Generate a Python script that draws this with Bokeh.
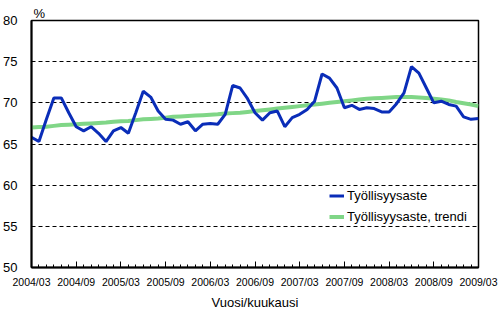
from bokeh.plotting import figure
from bokeh.models import FixedTicker, Range1d, Legend, LegendItem
from bokeh.embed import file_html
from bokeh.resources import INLINE

tick_labels = ["2004/03", "2004/09", "2005/03", "2005/09", "2006/03", "2006/09",
               "2007/03", "2007/09", "2008/03", "2008/09", "2009/03"]

months = list(range(61))

employment = [65.8, 65.3, 68.0, 70.6, 70.6, 68.8, 67.1, 66.6, 67.1, 66.3,
              65.3, 66.6, 67.0, 66.3, 68.8, 71.4, 70.7, 69.0, 68.0, 67.9,
              67.4, 67.7, 66.6, 67.4, 67.5, 67.4, 68.6, 72.1, 71.8, 70.5,
              68.8, 67.9, 68.8, 69.0, 67.1, 68.2, 68.6, 69.2, 70.2, 73.5,
              73.0, 71.8, 69.4, 69.7, 69.2, 69.4, 69.3, 68.9, 68.9, 69.9,
              71.2, 74.4, 73.6, 71.8, 70.0, 70.2, 69.8, 69.6, 68.3, 68.0,
              68.1]

trend = [67.0, 67.05, 67.1, 67.2, 67.3, 67.35, 67.4, 67.45, 67.5, 67.55,
         67.6, 67.7, 67.75, 67.8, 67.9, 68.0, 68.05, 68.1, 68.2, 68.3,
         68.35, 68.4, 68.45, 68.5, 68.55, 68.6, 68.7, 68.75, 68.8, 68.9,
         69.0, 69.1, 69.2, 69.3, 69.4, 69.5, 69.6, 69.7, 69.8, 69.9,
         70.0, 70.1, 70.2, 70.3, 70.4, 70.5, 70.55, 70.6, 70.65, 70.7,
         70.7, 70.7, 70.65, 70.6, 70.5, 70.4, 70.3, 70.1, 69.95, 69.8,
         69.6]

FONT = "Liberation Sans"

p = figure(width=498, height=312, output_backend="svg", toolbar_location=None,
           x_range=Range1d(0, 60), y_range=Range1d(50, 80),
           min_border_left=25, min_border_right=20, min_border_top=20,
           min_border_bottom=43)

p.outline_line_color = "black"
p.outline_line_width = 1.5
p.background_fill_color = "white"
p.border_fill_color = "white"

# "%" unit label above the y axis
p.title.text = "%"
p.title.align = "left"
p.title.offset = 2
p.title.standoff = 0
p.title.text_font = FONT
p.title.text_font_size = "13px"
p.title.text_line_height = 1.0
p.title.text_font_style = "normal"
p.title.text_color = "black"

# grid
p.xgrid.grid_line_color = None
p.ygrid.grid_line_color = "black"
p.ygrid.grid_line_dash = "4 3"
p.ygrid.grid_line_width = 1
p.ygrid.ticker = FixedTicker(ticks=[55, 60, 65, 70, 75])

# y axis
p.yaxis.ticker = FixedTicker(ticks=[50, 55, 60, 65, 70, 75, 80])
p.yaxis.major_tick_line_color = None
p.yaxis.minor_tick_line_color = None
p.yaxis.axis_line_width = 2
p.yaxis.axis_line_color = "black"
p.yaxis.major_label_text_font = FONT
p.yaxis.major_label_text_font_size = "13px"
p.yaxis.major_label_text_color = "black"
p.yaxis.major_label_standoff = 8

# x axis
p.xaxis.ticker = FixedTicker(ticks=list(range(0, 61, 6)), minor_ticks=list(range(61)))
p.xaxis.major_label_overrides = {i * 6: lab for i, lab in enumerate(tick_labels)}
p.xaxis.major_tick_in = 6
p.xaxis.major_tick_out = 0
p.xaxis.minor_tick_in = 3
p.xaxis.minor_tick_out = 0
p.xaxis.major_tick_line_color = "black"
p.xaxis.minor_tick_line_color = "black"
p.xaxis.axis_line_width = 2
p.xaxis.axis_line_color = "black"
p.xaxis.major_label_text_font = FONT
p.xaxis.major_label_text_font_size = "10.5px"
p.xaxis.major_label_text_color = "black"
p.xaxis.major_label_standoff = 8
p.xaxis.axis_label = "Vuosi/kuukausi"
p.xaxis.axis_label_text_font = FONT
p.xaxis.axis_label_text_font_size = "13px"
p.xaxis.axis_label_text_font_style = "normal"
p.xaxis.axis_label_text_color = "black"
p.xaxis.axis_label_standoff = 4

r_trend = p.line(months, trend, line_color="#80D687", line_width=4)
r_emp = p.line(months, employment, line_color="#0A2DB8", line_width=3)

legend = Legend(items=[LegendItem(label="Työllisyysaste", renderers=[r_emp]),
                       LegendItem(label="Työllisyysaste, trendi", renderers=[r_trend])],
                location=(298, 40))
legend.border_line_alpha = 0
legend.background_fill_alpha = 0
legend.padding = 0
legend.margin = 0
legend.spacing = 0
legend.glyph_width = 15
legend.glyph_height = 21
legend.label_height = 21
legend.label_standoff = 3
legend.label_text_font = FONT
legend.label_text_font_size = "13px"
legend.label_text_color = "black"
p.add_layout(legend, "center")

open("out.html", "w").write(file_html(p, INLINE))
